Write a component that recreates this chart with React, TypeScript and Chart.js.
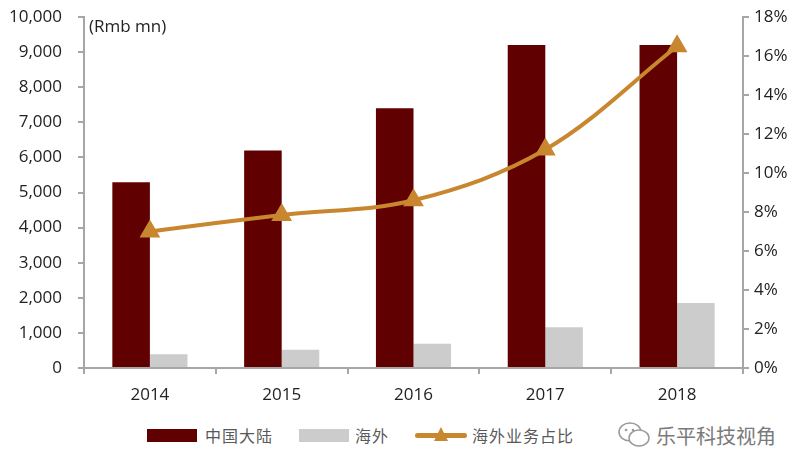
import React, { useEffect, useRef } from "react";
import { Chart, registerables } from "chart.js";

Chart.register(...registerables);

const categories = ["2014", "2015", "2016", "2017", "2018"];
const mainland = [5290, 6200, 7400, 9200, 9200];
const overseas = [390, 520, 690, 1160, 1850];
const overseasShare = [7.0, 7.85, 8.6, 11.2, 16.5];
const seriesNames = ["中国大陆", "海外", "海外业务占比"];
const unitLabel = "(Rmb mn)";
const watermark = "乐平科技视角";

const MAROON = "#600000";
const GREY = "#cccccc";
const GOLD = "#c8862e";
const AXIS = "#a6a6a6";
const TICK_FONT = { family: "'Open Sans', sans-serif", size: 17 };

const unitPlugin = {
  id: "unitLabel",
  afterDraw(chart: any) {
    const { ctx, chartArea } = chart;
    ctx.save();
    ctx.font = "17px 'Open Sans', sans-serif";
    ctx.fillStyle = "#222";
    ctx.textBaseline = "middle";
    ctx.textAlign = "left";
    ctx.fillText(unitLabel, chartArea.left + 5, chartArea.top + 10);
    ctx.restore();
  },
};

export default function App() {
  const ref = useRef<HTMLCanvasElement>(null);

  useEffect(() => {
    document.body.style.margin = "0";
    const chart = new Chart(ref.current as HTMLCanvasElement, {
      type: "bar",
      data: {
        labels: categories,
        datasets: [
          {
            type: "line",
            label: seriesNames[2],
            data: overseasShare,
            yAxisID: "y2",
            borderColor: GOLD,
            backgroundColor: GOLD,
            borderWidth: 4,
            tension: 0.35,
            pointStyle: "triangle",
            pointRadius: 8,
            pointBackgroundColor: GOLD,
            pointBorderColor: GOLD,
            order: 0,
          } as any,
          {
            type: "bar",
            label: seriesNames[0],
            data: mainland,
            yAxisID: "y",
            backgroundColor: MAROON,
            barPercentage: 1,
            categoryPercentage: 0.57,
            order: 1,
          },
          {
            type: "bar",
            label: seriesNames[1],
            data: overseas,
            yAxisID: "y",
            backgroundColor: GREY,
            barPercentage: 1,
            categoryPercentage: 0.57,
            order: 2,
          },
        ],
      },
      options: {
        animation: false,
        responsive: false,
        layout: { padding: { top: 17, left: 0, right: 0, bottom: 0 } },
        plugins: { legend: { display: false }, tooltip: { enabled: false } },
        scales: {
          x: {
            grid: { display: true, drawOnChartArea: false, drawTicks: true, tickLength: 6, color: AXIS, lineWidth: 2, offset: true },
            border: { display: true, color: AXIS, width: 2 },
            ticks: { color: "#222", font: TICK_FONT, padding: 11 },
            afterFit: (s: any) => { s.height = 42; },
          },
          y: {
            position: "left",
            min: 0,
            max: 10000,
            grid: { display: true, drawOnChartArea: false, drawTicks: true, tickLength: 6, color: AXIS, lineWidth: 2 },
            border: { display: true, color: AXIS, width: 2 },
            ticks: {
              stepSize: 1000,
              color: "#222",
              font: TICK_FONT,
              padding: 16,
              callback: (v: any) => Number(v).toLocaleString("en-US"),
            },
            afterFit: (s: any) => { s.width = 84; s.paddingTop = 8; s.paddingBottom = 8; },
          },
          y2: {
            position: "right",
            min: 0,
            max: 18,
            grid: { display: true, drawOnChartArea: false, drawTicks: true, tickLength: 6, color: AXIS, lineWidth: 2 },
            border: { display: true, color: AXIS, width: 2 },
            ticks: {
              stepSize: 2,
              color: "#222",
              font: TICK_FONT,
              padding: 5,
              callback: (v: any) => `${v}%`,
            },
            afterFit: (s: any) => { s.width = 58; s.paddingTop = 8; s.paddingBottom = 8; },
          },
        },
      },
      plugins: [unitPlugin],
    });
    return () => chart.destroy();
  }, []);

  const legendText: React.CSSProperties = {
    fontFamily: "'Noto Sans CJK SC', sans-serif",
    fontSize: 16,
    color: "#595959",
    letterSpacing: 1,
    lineHeight: "20px",
  };

  return (
    <div style={{ position: "relative", width: 801, height: 463, background: "#fff" }}>
      <canvas ref={ref} width={801} height={410} style={{ display: "block" }} />
      <div style={{ position: "absolute", top: 425, left: 147, display: "flex", alignItems: "center" }}>
        <span style={{ width: 50, height: 13, background: MAROON, display: "inline-block" }} />
        <span style={{ ...legendText, marginLeft: 8 }}>{seriesNames[0]}</span>
        <span style={{ width: 50, height: 13, background: GREY, display: "inline-block", marginLeft: 26 }} />
        <span style={{ ...legendText, marginLeft: 6 }}>{seriesNames[1]}</span>
        <span style={{ position: "relative", width: 52, height: 20, display: "inline-block", marginLeft: 26 }}>
          <span style={{ position: "absolute", left: 0, right: 0, top: 8, height: 5, borderRadius: 3, background: GOLD }} />
          <span style={{ position: "absolute", left: 19, top: 2, width: 0, height: 0, borderLeft: "7px solid transparent", borderRight: "7px solid transparent", borderBottom: `14px solid ${GOLD}` }} />
        </span>
        <span style={{ ...legendText, marginLeft: 5 }}>{seriesNames[2]}</span>
      </div>
      <div style={{ position: "absolute", top: 420, left: 616, display: "flex", alignItems: "center" }}>
        <svg width="36" height="30" viewBox="0 0 36 30">
          <ellipse cx="14" cy="12" rx="11" ry="9" fill="none" stroke="#9a9a9a" strokeWidth="1.5" />
          <ellipse cx="23" cy="18" rx="10" ry="8" fill="#fff" stroke="#9a9a9a" strokeWidth="1.5" />
          <circle cx="10" cy="10" r="1.3" fill="#9a9a9a" />
          <circle cx="17" cy="10" r="1.3" fill="#9a9a9a" />
        </svg>
        <span style={{ fontFamily: "'Noto Sans CJK SC', sans-serif", fontSize: 20, color: "#7a7a7a", marginLeft: 4 }}>{watermark}</span>
      </div>
    </div>
  );
}
